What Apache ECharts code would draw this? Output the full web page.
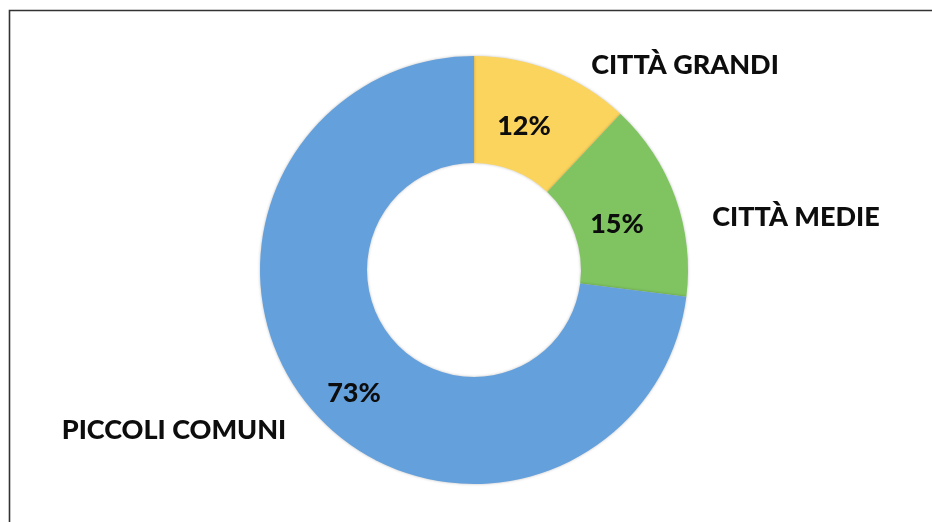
<!DOCTYPE html>
<html lang="it">
  <head>
    <meta charset="UTF-8" />
    <title>Comuni</title>
    <script src="https://cdn.jsdelivr.net/npm/echarts@6/dist/echarts.min.js"></script>
    <style>
      html, body { margin: 0; padding: 0; background: #fff; }
      #app { width: 932px; height: 522px; }
    </style>
  </head>
  <body>
    <div id="app"></div>
    <script>
      const categories = ["CITTÀ GRANDI", "CITTÀ MEDIE", "PICCOLI COMUNI"];
      const values = [12, 15, 73];
      const colors = ["#FBD45E", "#7FC460", "#64A0DC"];

      // where Excel put the labels (centre of text)
      const pctPos = [[524, 126], [617, 224], [354, 393]];
      const namePos = [[685, 65], [796, 217], [174, 430]];

      const data = categories.map((name, i) => ({
        name,
        value: values[i],
        itemStyle: { color: colors[i] },
      }));

      const font = {
        fontFamily: "Lato",
        fontWeight: 900,
        fontSize: 27,
        color: "#0d0d0d",
      };

      const chart = echarts.init(document.getElementById("app"));

      chart.setOption({
        animation: false,
        graphic: [
          {
            type: "rect",
            shape: { x: 9.5, y: 10.5, width: 1000, height: 600 },
            style: { fill: "none", stroke: "#333", lineWidth: 1.6 },
            silent: true,
          },
        ],
        series: [
          {
            type: "pie",
            center: [474, 270],
            radius: [107, 214],
            startAngle: 90,
            clockwise: true,
            data,
            itemStyle: { shadowBlur: 3, shadowColor: "rgba(0,0,0,0.25)" },
            label: {
              position: "inside",
              formatter: "{c}%",
              ...font,
            },
            labelLayout: (p) => ({
              x: pctPos[p.dataIndex][0],
              y: pctPos[p.dataIndex][1],
              align: "center",
              verticalAlign: "middle",
            }),
            emphasis: { disabled: true },
          },
          {
            type: "pie",
            center: [474, 270],
            radius: [107, 214],
            startAngle: 90,
            silent: true,
            data: data.map((d) => ({ name: d.name, value: d.value })),
            itemStyle: { color: "rgba(0,0,0,0)" },
            label: {
              position: "outside",
              formatter: "{b}",
              ...font,
            },
            labelLine: { show: false },
            labelLayout: (p) => ({
              x: namePos[p.dataIndex][0],
              y: namePos[p.dataIndex][1],
              align: "center",
              verticalAlign: "middle",
            }),
          },
        ],
      });
    </script>
  </body>
</html>
